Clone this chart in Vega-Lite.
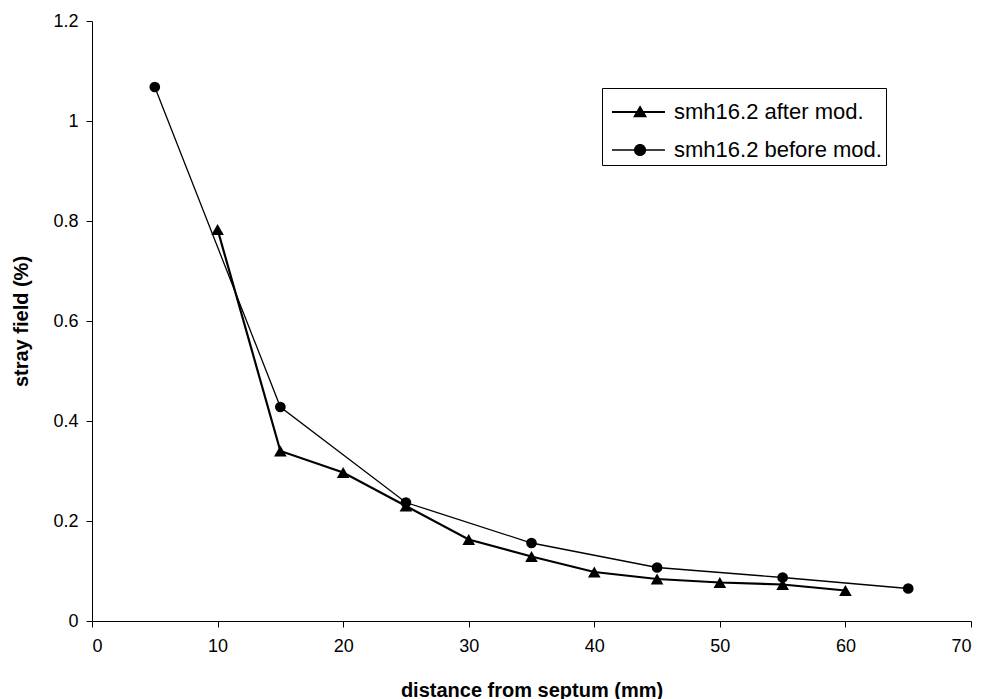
{
  "$schema": "https://vega.github.io/schema/vega-lite/v6.json",
  "width": 879,
  "height": 600,
  "autosize": {"type": "none"},
  "padding": {"left": 92, "top": 21, "right": 16, "bottom": 78},
  "background": "white",
  "config": {
    "view": {"stroke": null},
    "font": "Liberation Sans",
    "axis": {
      "domainColor": "black",
      "tickColor": "black",
      "labelColor": "black",
      "titleColor": "black",
      "labelFont": "Liberation Sans",
      "titleFont": "Liberation Sans",
      "labelFontSize": 18,
      "titleFontSize": 20,
      "titleFontWeight": "bold",
      "grid": false,
      "tickSize": 6
    }
  },
  "data": {
    "values": [
      {"series": "smh16.2 after mod.", "x": 10, "y": 0.783},
      {"series": "smh16.2 after mod.", "x": 15, "y": 0.34},
      {"series": "smh16.2 after mod.", "x": 20, "y": 0.297},
      {"series": "smh16.2 after mod.", "x": 25, "y": 0.23},
      {"series": "smh16.2 after mod.", "x": 30, "y": 0.163},
      {"series": "smh16.2 after mod.", "x": 35, "y": 0.129},
      {"series": "smh16.2 after mod.", "x": 40, "y": 0.098},
      {"series": "smh16.2 after mod.", "x": 45, "y": 0.084},
      {"series": "smh16.2 after mod.", "x": 50, "y": 0.077},
      {"series": "smh16.2 after mod.", "x": 55, "y": 0.073},
      {"series": "smh16.2 after mod.", "x": 60, "y": 0.061},
      {"series": "smh16.2 before mod.", "x": 5, "y": 1.068},
      {"series": "smh16.2 before mod.", "x": 15, "y": 0.428},
      {"series": "smh16.2 before mod.", "x": 25, "y": 0.237},
      {"series": "smh16.2 before mod.", "x": 35, "y": 0.156},
      {"series": "smh16.2 before mod.", "x": 45, "y": 0.107},
      {"series": "smh16.2 before mod.", "x": 55, "y": 0.087},
      {"series": "smh16.2 before mod.", "x": 65, "y": 0.065}
    ]
  },
  "encoding": {
    "x": {
      "field": "x", "type": "quantitative",
      "scale": {"domain": [0, 70], "nice": false, "zero": false},
      "axis": {"values": [0, 10, 20, 30, 40, 50, 60, 70], "title": "distance from septum (mm)", "labelPadding": 10, "titleY": 69, "titleBaseline": "middle"}
    },
    "y": {
      "field": "y", "type": "quantitative",
      "scale": {"domain": [0, 1.2], "nice": false},
      "axis": {"values": [0, 0.2, 0.4, 0.6, 0.8, 1, 1.2], "format": ".1~f", "title": "stray field (%)", "labelPadding": 8, "titleX": -71, "titleBaseline": "middle"}
    }
  },
  "layer": [
    {
      "mark": {"type": "line", "color": "black"},
      "encoding": {
        "detail": {"field": "series"},
        "strokeWidth": {
          "field": "series", "type": "nominal",
          "scale": {"domain": ["smh16.2 after mod.", "smh16.2 before mod."], "range": [2.2, 1.3]},
          "legend": null
        }
      }
    },
    {
      "mark": {"type": "point", "filled": true, "color": "black", "opacity": 1},
      "encoding": {
        "shape": {
          "field": "series", "type": "nominal",
          "scale": {"domain": ["smh16.2 after mod.", "smh16.2 before mod."], "range": ["triangle-up", "circle"]},
          "legend": null
        },
        "size": {
          "field": "series", "type": "nominal",
          "scale": {"domain": ["smh16.2 after mod.", "smh16.2 before mod."], "range": [160, 115]},
          "legend": null
        }
      }
    },
    {
      "mark": {"type": "point", "filled": true, "color": "black", "opacity": 0, "size": 10},
      "encoding": {
        "shape": {
          "field": "series", "type": "nominal",
          "scale": {"domain": ["smh16.2 after mod.", "smh16.2 before mod."], "range": [
            "M-0.74,-0.05L2.05,-0.05L2.05,0.05L-0.74,0.05ZM0.74,-0.35L1.11,0.28L0.37,0.28Z",
            "M-0.74,-0.04L2.05,-0.04L2.05,0.04L-0.74,0.04ZM0.42,0A0.32,0.32,0,1,1,1.06,0A0.32,0.32,0,1,1,0.42,0Z"
          ]},
          "legend": {
            "title": null,
            "orient": "none",
            "legendX": 510,
            "legendY": 67,
            "direction": "vertical",
            "fillColor": "white",
            "strokeColor": "black",
            "padding": 4,
            "symbolSize": 1444,
            "symbolOpacity": 1,
            "symbolFillColor": "black",
            "labelFont": "Liberation Sans",
            "labelFontSize": 22,
            "labelLimit": 0,
            "labelColor": "black",
            "labelOffset": 28,
            "rowPadding": 7,
            "encode": {
              "symbols": {
                "update": {
                  "fill": {"value": "black"},
                  "opacity": {"value": 1},
                  "fillOpacity": {"value": 1}
                }
              }
            }
          }
        }
      }
    }
  ],
  "resolve": {"scale": {"shape": "independent", "size": "independent"}}
}
